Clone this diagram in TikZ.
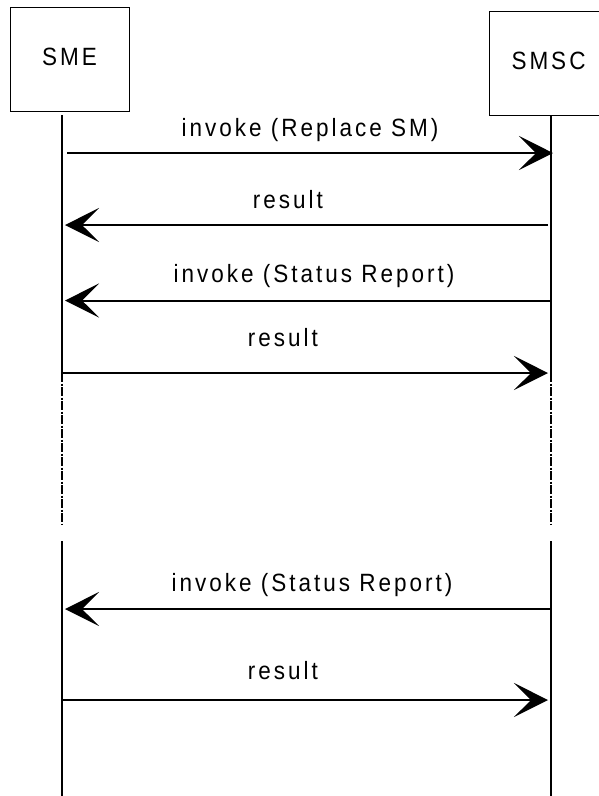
\documentclass[tikz,border=0pt]{standalone}
\usepackage{fontspec}
\setmainfont{Liberation Sans}[LetterSpace=12,FakeStretch=0.9]
\usetikzlibrary{arrows.meta}

\begin{document}
\begin{tikzpicture}[x=1pt,y=-1pt,
  font=\fontsize{25}{29}\selectfont,
  entity/.style={draw,line width=1pt,minimum width=119pt,minimum height=104pt,inner sep=0pt,text depth=5pt},
  lifeline/.style={line width=2pt},
  gapline/.style={line width=2pt,dash pattern=on 9pt off 1.5pt on 2pt off 1.5pt},
  msg/.style={line width=2pt,-{Stealth[length=34pt,width=34pt,inset=17pt]}},
  msglabel/.style={anchor=base,inner sep=0pt}]
\clip (0,0) rectangle (599,796);
% the two entities
\node[entity] (sme) at (69.5,59) {SME};
\node[entity] (smsc) at (548.5,63.5) {SMSC};
% lifelines
\coordinate (sme top) at (62,115);
\coordinate (sme brk) at (62,373);
\coordinate (sme gap) at (62,524);
\coordinate (sme low) at (62,541);
\coordinate (sme end) at (62,796);
\coordinate (smsc top) at (551,116);
\coordinate (smsc brk) at (551,373);
\coordinate (smsc gap) at (551,524);
\coordinate (smsc low) at (551,541);
\coordinate (smsc end) at (551,796);
\draw[lifeline] (sme top) -- (sme brk);
\draw[gapline] (sme brk) -- (sme gap);
\draw[lifeline] (sme low) -- (sme end);
\draw[lifeline] (smsc top) -- (smsc brk);
\draw[gapline] (smsc brk) -- (smsc gap);
\draw[lifeline] (smsc low) -- (smsc end);
% message ends
\coordinate (m1 from) at (67,153);   \coordinate (m1 to) at (553,153);
\coordinate (m2 from) at (548,225);  \coordinate (m2 to) at (65,225);
\coordinate (m3 from) at (551,300.5);\coordinate (m3 to) at (65,300.5);
\coordinate (m4 from) at (62,373);   \coordinate (m4 to) at (548,373);
\coordinate (m5 from) at (551,609);  \coordinate (m5 to) at (65,609);
\coordinate (m6 from) at (62,700);   \coordinate (m6 to) at (548,700);
% messages
\draw[msg] (m1 from) -- (m1 to);
\draw[msg] (m2 from) -- (m2 to);
\draw[msg] (m3 from) -- (m3 to);
\draw[msg] (m4 from) -- (m4 to);
\draw[msg] (m5 from) -- (m5 to);
\draw[msg] (m6 from) -- (m6 to);
\node[msglabel] (l1) at (310,136) {invoke (Replace SM)};
\node[msglabel] (l2) at (288,208) {result};
\node[msglabel] (l3) at (314,282) {invoke (Status Report)};
\node[msglabel] (l4) at (283,346) {result};
\node[msglabel] (l5) at (312,591) {invoke (Status Report)};
\node[msglabel] (l6) at (283,679) {result};
\end{tikzpicture}
\end{document}
